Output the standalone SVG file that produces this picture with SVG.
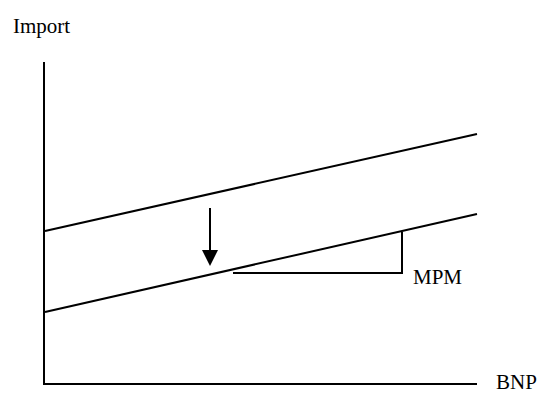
<svg xmlns="http://www.w3.org/2000/svg" width="542" height="394" viewBox="0 0 542 394">
  <style>
    .ln { stroke: #000; stroke-width: 2; fill: none; }
    .lbl { font-family: "Liberation Serif", "Times New Roman", serif; font-size: 21px; fill: #000; }
  </style>
  <rect width="542" height="394" fill="#fff"/>

  <!-- axes -->
  <g id="axes">
    <line class="ln" x1="44" y1="62" x2="44" y2="384"/>
    <line class="ln" x1="43" y1="384" x2="477" y2="384"/>
    <text class="lbl" x="13" y="33">Import</text>
    <text class="lbl" x="496" y="389">BNP</text>
  </g>

  <!-- import functions -->
  <g id="import-high">
    <line class="ln" x1="45" y1="231" x2="477" y2="134"/>
  </g>
  <g id="import-low">
    <line class="ln" x1="45" y1="312" x2="477" y2="214"/>
  </g>

  <!-- slope triangle -->
  <g id="mpm">
    <polyline class="ln" points="233,273 402,273 402,232"/>
    <text class="lbl" x="413" y="284">MPM</text>
  </g>

  <!-- downward shift -->
  <g id="connectors">
    <line x1="210" y1="208" x2="210" y2="250" stroke="#000" stroke-width="2"/>
    <path d="M202,250 L218,250 L210,266 Z" fill="#000"/>
  </g>
</svg>
